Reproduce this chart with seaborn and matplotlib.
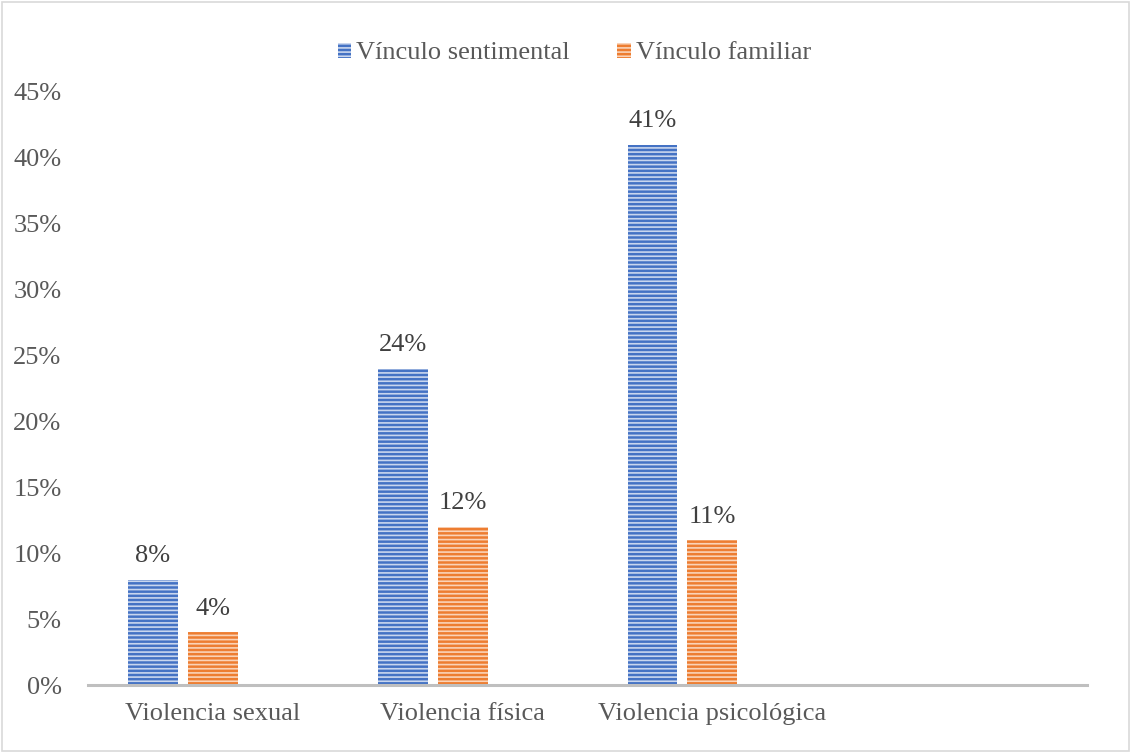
import pandas as pd
import matplotlib.pyplot as plt
import matplotlib.ticker as mticker
from matplotlib.patches import Rectangle
import seaborn as sns

# data (percentages)
tipos = ["Violencia sexual", "Violencia física", "Violencia psicológica"]
sentimental = [8, 24, 41]
familiar = [4, 12, 11]
series = ["Vínculo sentimental", "Vínculo familiar"]
colores = ["#4472C4", "#ED7D31"]
rayas = ["#C9D6EE", "#FAD3B8"]

df = pd.DataFrame({
    "tipo": tipos * 2,
    "valor": sentimental + familiar,
    "vinculo": [series[0]] * 3 + [series[1]] * 3,
})

sns.set_style("white")
plt.rcParams["font.family"] = ["Liberation Serif", "DejaVu Serif"]
plt.rcParams["hatch.linewidth"] = 1.2

fig = plt.figure(figsize=(11.31, 7.53), dpi=100)
ax = fig.add_axes([88 / 1131, 68 / 753, 999 / 1131, 593 / 753])

sns.barplot(data=df, x="tipo", y="valor", hue="vinculo",
            hue_order=series + ["_vacio"], order=tipos,
            palette=colores + ["#FFFFFF"], width=0.72, gap=0.17,
            ax=ax, legend=False, errorbar=None)

for cont, fc, hc in zip(ax.containers, colores, rayas):
    for p in cont.patches:
        p.set_facecolor(fc)
        p.set_edgecolor(hc)
        p.set_hatch("----")
        p.set_linewidth(0)
    ax.bar_label(cont, labels=[f"{v:.0f}%" for v in cont.datavalues],
                 padding=9, fontsize=19, color="#404040")

ax.set_xlim(-0.5, 3.5)
ax.set_ylim(0, 45)
ax.yaxis.set_major_locator(mticker.MultipleLocator(5))
ax.yaxis.set_major_formatter(mticker.FuncFormatter(lambda v, _: f"{v:.0f}%"))
ax.set_xlabel("")
ax.set_ylabel("")
ax.tick_params(axis="both", length=0, labelsize=19, colors="#595959")
ax.tick_params(axis="y", pad=19)
ax.tick_params(axis="x", pad=13)
for s in ["top", "right", "left"]:
    ax.spines[s].set_visible(False)
ax.spines["bottom"].set_color("#BFBFBF")
ax.spines["bottom"].set_linewidth(2.2)

handles = [Rectangle((0, 0), 1, 1, facecolor=c, edgecolor=h, hatch="----", linewidth=0)
           for c, h in zip(colores, rayas)]
fig.legend(handles, series, loc="center", bbox_to_anchor=(0.508, 0.929),
           ncol=2, frameon=False, fontsize=19, labelcolor="#595959",
           handlelength=0.5, handleheight=0.5, handletextpad=0.2, columnspacing=1.8)

fig.patches.append(Rectangle((0.002, 0.002), 0.996, 0.995, transform=fig.transFigure,
                             fill=False, edgecolor="#D9D9D9", linewidth=1.2))

fig.savefig("out.png", dpi=100)
